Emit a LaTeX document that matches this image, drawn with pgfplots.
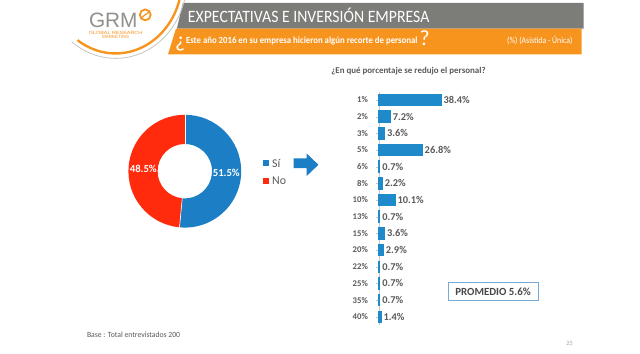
\documentclass[border=0pt]{standalone}
\usepackage{pgfplots}
\pgfplotsset{compat=1.18}
\usepackage{pgfplotstable}
\usepackage{graphicx}
\usepackage{fontspec}
\setmainfont{Carlito}
\newfontfamily\lib{Liberation Sans}
\definecolor{barblue}{RGB}{31,138,201}
\definecolor{siblue}{RGB}{28,127,197}
\definecolor{nored}{RGB}{255,43,12}
\definecolor{horange}{RGB}{247,148,30}
\definecolor{hgray}{RGB}{124,124,120}
\definecolor{lblgray}{RGB}{90,90,90}
\definecolor{boxblue}{RGB}{120,170,215}

\pgfplotstableread{
cat value
1 38.4
2 7.2
3 3.6
5 26.8
6 0.7
8 2.2
10 10.1
13 0.7
15 3.6
20 2.9
22 0.7
25 0.7
35 0.7
40 1.4
}\reduc

\pgfplotstableread{
label value
Si 51.5
No 48.5
}\donut

\begin{document}
\pgfplotstablegetelem{0}{value}\of\donut
\let\vsi\pgfplotsretval
\pgfmathsetmacro\ang{90-3.6*\vsi}
\pgfmathsetmacro\midsi{(90+\ang)/2}
\pgfmathsetmacro\midno{(\ang-270)/2}
\begin{tikzpicture}[x=1pt,y=1pt]
\useasboundingbox (0,0) rectangle (640,357);
\fill[white] (0,0) rectangle (640,357);
% header bars
\fill[hgray] (178,354) -- (583,354) -- (583,328) -- (172,328) -- cycle;
\fill[horange] (171,328) -- (581,328) -- (581,302) -- (163,302) -- cycle;
% logo arcs
\draw[hgray!45, line width=0.8] (110,377) ++(-3:72 and 79) arc[start angle=-3, end angle=-128, x radius=72, y radius=79];
\draw[horange, line width=2.4] (110,377) ++(-5:67 and 74) arc[start angle=-5, end angle=-125, x radius=67, y radius=74];
\node[anchor=base west, text=hgray!85, inner sep=0] at (83,329) {\lib\fontsize{21}{21}\selectfont GRM};
\draw[horange, line width=1.8] (140,342) circle (5.5);
\draw[horange, line width=1.2] (136,339) -- (144,345);
\node[text=horange, inner sep=0] at (110,324) {\resizebox{54pt}{\height}{\lib\fontsize{4.6}{5}\selectfont GLOBAL RESEARCH}};
\node[text=horange, inner sep=0] at (110,319.5) {\lib\fontsize{4.6}{5}\selectfont MARKETING};
% titles
\node[anchor=base west, text=white, inner sep=0] at (183,334) {\resizebox{244pt}{\height}{\fontsize{17.5}{18}\selectfont EXPECTATIVAS E INVERSIÓN EMPRESA}};
\node[anchor=base west, text=white, inner sep=0] at (170,309) {\fontsize{22}{22}\selectfont ¿};
\node[anchor=base west, text=white, inner sep=0] at (181,313) {\resizebox{234pt}{\height}{\fontsize{9.5}{10}\selectfont\bfseries Este año 2016 en su empresa hicieron algún recorte de personal}};
\node[anchor=base west, text=white, inner sep=0] at (417,311) {\fontsize{22}{22}\selectfont ?};
\node[anchor=base east, text=white, inner sep=0] at (572,313) {\resizebox{66pt}{\height}{\fontsize{9}{9}\selectfont (\%) (Asistida - Única)}};
% chart subtitle
\node[text=lblgray, inner sep=0] at (406,285) {\resizebox{156pt}{\height}{\fontsize{9}{9}\selectfont\bfseries ¿En qué porcentaje se redujo el personal?}};
% donut
\begin{axis}[at={(180pt,184pt)}, anchor=center, x=1pt, y=1pt,
  xmin=-60, xmax=60, ymin=-60, ymax=60, hide axis, clip=false]
\fill[siblue] (axis cs:0,57) arc[start angle=90, end angle=\ang, radius=57pt]
  -- (axis cs:{27.5*cos(\ang)},{27.5*sin(\ang)}) arc[start angle=\ang, end angle=90, radius=27.5pt] -- cycle;
\fill[nored] (axis cs:{57*cos(\ang)},{57*sin(\ang)}) arc[start angle=\ang, end angle=-270, radius=57pt]
  -- (axis cs:0,27.5) arc[start angle=-270, end angle=\ang, radius=27.5pt] -- cycle;
\draw[white, line width=0.6] (axis cs:0,27.5) -- (axis cs:0,57);
\draw[white, line width=0.6] (axis cs:{27.5*cos(\ang)},{27.5*sin(\ang)}) -- (axis cs:{57*cos(\ang)},{57*sin(\ang)});
\node[text=white, font=\fontsize{10.8}{11}\selectfont\bfseries] at (axis cs:{42*cos(\midsi)},{42*sin(\midsi)}) {51.5\%};
\node[text=white, font=\fontsize{10.8}{11}\selectfont\bfseries] at (axis cs:{42*cos(\midno)},{42*sin(\midno)}) {48.5\%};
\end{axis}
% legend
\fill[siblue] (259,189) rectangle (265,195);
\node[anchor=west, text=lblgray, inner sep=0] at (268,192) {\fontsize{12}{12}\selectfont Sí};
\fill[nored] (259,171) rectangle (265,177);
\node[anchor=west, text=lblgray, inner sep=0] at (268,174) {\fontsize{12}{12}\selectfont No};
% arrow
\fill[siblue] (290,187) -- (303,187) -- (303,179) -- (315,190.5) -- (303,202) -- (303,197) -- (290,197) -- cycle;
% bar chart
\begin{axis}[at={(376pt,264.4pt)}, anchor=north west, scale only axis,
  width=98.4pt, height=235.9pt,
  xbar, bar width=11.5pt,
  xmin=0, xmax=60, ymin=-0.5, ymax=13.5, y dir=reverse,
  axis x line=none, axis y line*=left,
  y axis line style={draw=gray!45},
  ytick={0,...,13},
  yticklabels={1\%,2\%,3\%,5\%,6\%,8\%,10\%,13\%,15\%,20\%,22\%,25\%,35\%,40\%},
  ytick style={draw=gray!45}, major tick length=2.5pt, tick align=outside,
  yticklabel style={font=\fontsize{8.8}{9}\selectfont\bfseries, text=lblgray, xshift=-5pt},
  /pgf/number format/assume math mode=true,
  point meta=x,
  nodes near coords={\pgfmathprintnumber[fixed,fixed zerofill,precision=1]{\pgfplotspointmeta}\%},
  every node near coord/.append style={font=\fontsize{10.5}{11}\selectfont\bfseries, text=lblgray, inner sep=2pt},
  clip=false]
\addplot[fill=barblue, draw=barblue, line width=1pt] table[x=value, y expr=\coordindex] {\reduc};
\end{axis}
% promedio box
\draw[boxblue, line width=0.9] (446,72) rectangle (537,53);
\node[text=lblgray!80!black] at (491.5,62.5) {\fontsize{11}{11}\selectfont\bfseries PROMEDIO 5.6\%};
% footer
\node[anchor=base west, text=lblgray, inner sep=0] at (81,16) {\resizebox{94pt}{\height}{\fontsize{8}{8}\selectfont Base : Total entrevistados 200}};
\node[text=gray!70, inner sep=0] at (569,10) {\fontsize{6.5}{7}\selectfont 25};
\end{tikzpicture}
\end{document}
